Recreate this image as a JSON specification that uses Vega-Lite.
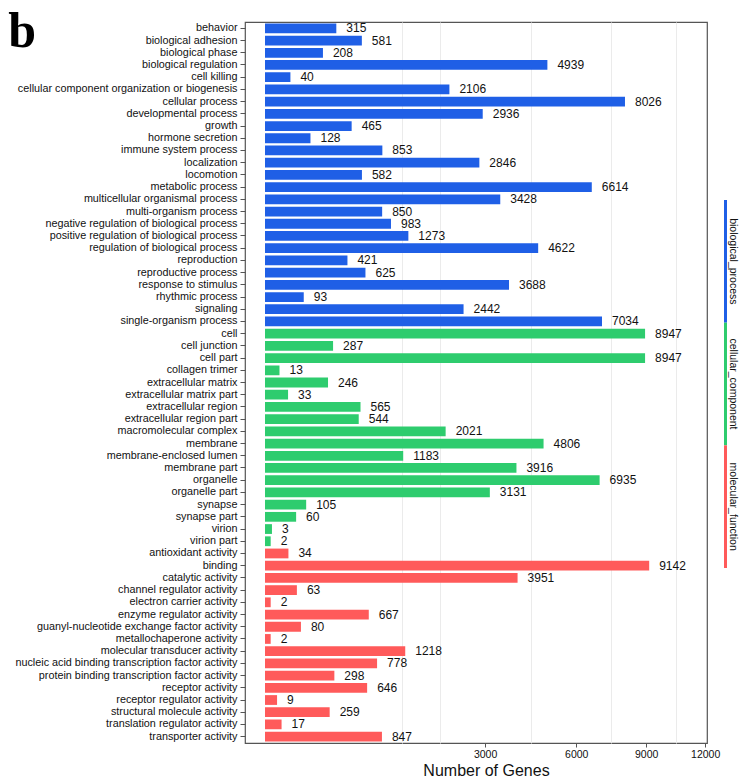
{
  "$schema": "https://vega.github.io/schema/vega-lite/v6.json",
  "padding": {"left": 8, "top": 7, "right": 2, "bottom": 2},
  "background": "white",
  "bounds": "flush",
  "spacing": 17,
  "config": {
    "font": "Liberation Sans",
    "view": {"stroke": "#555", "strokeWidth": 1.2}
  },
  "title": {"text": "b", "anchor": "start", "frame": "bounds", "font": "Liberation Serif", "fontSize": 50, "fontWeight": "bold", "color": "#000", "dx": -6, "dy": 36, "offset": 0},
  "datasets": {
    "genes": [
      {"term": "behavior", "count": 315, "category": "biological_process"},
      {"term": "biological adhesion", "count": 581, "category": "biological_process"},
      {"term": "biological phase", "count": 208, "category": "biological_process"},
      {"term": "biological regulation", "count": 4939, "category": "biological_process"},
      {"term": "cell killing", "count": 40, "category": "biological_process"},
      {"term": "cellular component organization or biogenesis", "count": 2106, "category": "biological_process"},
      {"term": "cellular process", "count": 8026, "category": "biological_process"},
      {"term": "developmental process", "count": 2936, "category": "biological_process"},
      {"term": "growth", "count": 465, "category": "biological_process"},
      {"term": "hormone secretion", "count": 128, "category": "biological_process"},
      {"term": "immune system process", "count": 853, "category": "biological_process"},
      {"term": "localization", "count": 2846, "category": "biological_process"},
      {"term": "locomotion", "count": 582, "category": "biological_process"},
      {"term": "metabolic process", "count": 6614, "category": "biological_process"},
      {"term": "multicellular organismal process", "count": 3428, "category": "biological_process"},
      {"term": "multi-organism process", "count": 850, "category": "biological_process"},
      {"term": "negative regulation of biological process", "count": 983, "category": "biological_process"},
      {"term": "positive regulation of biological process", "count": 1273, "category": "biological_process"},
      {"term": "regulation of biological process", "count": 4622, "category": "biological_process"},
      {"term": "reproduction", "count": 421, "category": "biological_process"},
      {"term": "reproductive process", "count": 625, "category": "biological_process"},
      {"term": "response to stimulus", "count": 3688, "category": "biological_process"},
      {"term": "rhythmic process", "count": 93, "category": "biological_process"},
      {"term": "signaling", "count": 2442, "category": "biological_process"},
      {"term": "single-organism process", "count": 7034, "category": "biological_process"},
      {"term": "cell", "count": 8947, "category": "cellular_component"},
      {"term": "cell junction", "count": 287, "category": "cellular_component"},
      {"term": "cell part", "count": 8947, "category": "cellular_component"},
      {"term": "collagen trimer", "count": 13, "category": "cellular_component"},
      {"term": "extracellular matrix", "count": 246, "category": "cellular_component"},
      {"term": "extracellular matrix part", "count": 33, "category": "cellular_component"},
      {"term": "extracellular region", "count": 565, "category": "cellular_component"},
      {"term": "extracellular region part", "count": 544, "category": "cellular_component"},
      {"term": "macromolecular complex", "count": 2021, "category": "cellular_component"},
      {"term": "membrane", "count": 4806, "category": "cellular_component"},
      {"term": "membrane-enclosed lumen", "count": 1183, "category": "cellular_component"},
      {"term": "membrane part", "count": 3916, "category": "cellular_component"},
      {"term": "organelle", "count": 6935, "category": "cellular_component"},
      {"term": "organelle part", "count": 3131, "category": "cellular_component"},
      {"term": "synapse", "count": 105, "category": "cellular_component"},
      {"term": "synapse part", "count": 60, "category": "cellular_component"},
      {"term": "virion", "count": 3, "category": "cellular_component"},
      {"term": "virion part", "count": 2, "category": "cellular_component"},
      {"term": "antioxidant activity", "count": 34, "category": "molecular_function"},
      {"term": "binding", "count": 9142, "category": "molecular_function"},
      {"term": "catalytic activity", "count": 3951, "category": "molecular_function"},
      {"term": "channel regulator activity", "count": 63, "category": "molecular_function"},
      {"term": "electron carrier activity", "count": 2, "category": "molecular_function"},
      {"term": "enzyme regulator activity", "count": 667, "category": "molecular_function"},
      {"term": "guanyl-nucleotide exchange factor activity", "count": 80, "category": "molecular_function"},
      {"term": "metallochaperone activity", "count": 2, "category": "molecular_function"},
      {"term": "molecular transducer activity", "count": 1218, "category": "molecular_function"},
      {"term": "nucleic acid binding transcription factor activity", "count": 778, "category": "molecular_function"},
      {"term": "protein binding transcription factor activity", "count": 298, "category": "molecular_function"},
      {"term": "receptor activity", "count": 646, "category": "molecular_function"},
      {"term": "receptor regulator activity", "count": 9, "category": "molecular_function"},
      {"term": "structural molecule activity", "count": 259, "category": "molecular_function"},
      {"term": "translation regulator activity", "count": 17, "category": "molecular_function"},
      {"term": "transporter activity", "count": 847, "category": "molecular_function"}
    ],
    "groups": [
      {"category": "biological_process"},
      {"category": "cellular_component"},
      {"category": "molecular_function"}
    ]
  },
  "hconcat": [
    {
      "width": 462,
      "height": 721,
      "data": {"name": "genes"},
      "resolve": {"axis": {"x": "independent"}},
      "layer": [
        {
          "mark": {"type": "bar"},
          "encoding": {
            "y": {"field": "term", "type": "nominal", "sort": null,
              "scale": {"paddingInner": 0.2, "paddingOuter": 0.12},
              "axis": {"title": null, "labelFontSize": 10.8, "labelColor": "#111", "tickSize": 5, "tickColor": "#555", "domain": false, "labelPadding": 3, "labelLimit": 400, "labelOverlap": false}},
            "x": {"field": "count", "type": "quantitative",
              "scale": {"type": "sqrt", "domain": [0, 12100], "nice": false, "zero": false, "range": [20, 462]},
              "axis": {"orient": "bottom", "values": [3000, 6000, 9000, 12000], "format": "d", "grid": false, "domain": false, "tickSize": 4, "tickColor": "#555", "labelFontSize": 10.5, "labelColor": "#111", "labelPadding": 2, "title": "Number of Genes", "titleFontSize": 16, "titleFontWeight": "normal", "titleColor": "#111", "titlePadding": 3}},
            "color": {"field": "category", "type": "nominal",
              "scale": {"domain": ["biological_process", "cellular_component", "molecular_function"], "range": ["#1f5fe6", "#2ecc6e", "#ff5a5a"]},
              "legend": null}
          }
        },
        {
          "mark": {"type": "text", "align": "left", "baseline": "middle", "dx": 10, "fontSize": 12, "color": "#111"},
          "encoding": {
            "y": {"field": "term", "type": "nominal", "sort": null},
            "x": {"field": "count", "type": "quantitative",
              "axis": {"orient": "bottom", "values": [1160, 1900, 4390, 7420, 10470], "grid": true, "gridColor": "#ebebeb", "labels": false, "ticks": false, "domain": false, "title": null}},
            "text": {"field": "count", "type": "quantitative", "format": "d"}
          }
        }
      ]
    },
    {
      "width": 3,
      "height": 721,
      "view": {"stroke": null},
      "data": {"name": "groups"},
      "layer": [
        {
          "mark": {"type": "rect"},
          "encoding": {
            "y": {"field": "category", "type": "nominal", "sort": null,
              "scale": {"paddingInner": 0, "paddingOuter": 0, "range": [178, 546]}, "axis": null},
            "color": {"field": "category", "type": "nominal",
              "scale": {"domain": ["biological_process", "cellular_component", "molecular_function"], "range": ["#1f5fe6", "#2ecc6e", "#ff5a5a"]},
              "legend": null}
          }
        },
        {
          "mark": {"type": "text", "angle": 90, "align": "center", "baseline": "bottom", "dy": -2, "fontSize": 10.5, "color": "#111"},
          "encoding": {
            "y": {"field": "category", "type": "nominal", "sort": null},
            "text": {"field": "category", "type": "nominal"}
          }
        }
      ]
    }
  ]
}
